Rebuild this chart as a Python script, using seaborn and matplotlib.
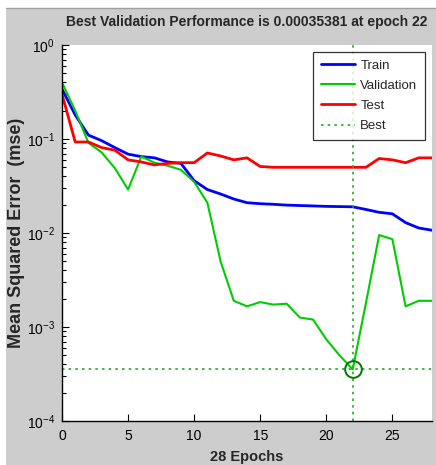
import numpy as np
import pandas as pd
import matplotlib

matplotlib.use("Agg")
import seaborn as sns
import matplotlib.pyplot as plt
from matplotlib.patches import Rectangle
from matplotlib.ticker import FixedLocator, LogLocator, NullFormatter

# values (mse per epoch, log scale)
epochs = list(range(29))
train = [0.34, 0.18, 0.11, 0.096, 0.081, 0.069, 0.065, 0.063, 0.057, 0.055,
         0.036, 0.029, 0.026, 0.023, 0.021, 0.0205, 0.0202, 0.0198, 0.0196, 0.0194,
         0.0192, 0.0191, 0.019, 0.0178, 0.0166, 0.016, 0.0129, 0.0113, 0.0107]
validation = [0.40, 0.20, 0.091, 0.072, 0.049, 0.029, 0.065, 0.056, 0.052, 0.047,
              0.035, 0.021, 0.005, 0.0019, 0.00166, 0.00184, 0.00173, 0.00177, 0.00126, 0.0012,
              0.00074, 0.0005, 0.00035381, 0.0018, 0.0095, 0.0086, 0.00166, 0.0019, 0.0019]
test = [0.30, 0.093, 0.093, 0.081, 0.076, 0.060, 0.057, 0.053, 0.055, 0.056,
        0.056, 0.071, 0.066, 0.060, 0.063, 0.051, 0.050, 0.050, 0.050, 0.050,
        0.050, 0.050, 0.050, 0.050, 0.062, 0.060, 0.056, 0.063, 0.063]
best_epoch = 22
best_perf = 0.00035381
x_ticks = [0, 5, 10, 15, 20, 25]

sns.set_style("white")
plt.rcParams["font.family"] = ["Liberation Sans", "DejaVu Sans"]

fig = plt.figure(figsize=(4.36, 4.65), dpi=100, facecolor="white")
# grey window background with a thin white strip at top and left
fig.patches.append(Rectangle((6 / 436, 0), 1, 457 / 465, transform=fig.transFigure,
                             facecolor="#cdcdcd", edgecolor="none", zorder=-10))
fig.add_artist(plt.Line2D([6 / 436, 1], [457 / 465, 457 / 465], transform=fig.transFigure,
                          color="#a0a0a0", lw=1))

ax = fig.add_axes([62 / 436, 44 / 465, 370 / 436, 376 / 465])
ax.set_facecolor("white")

sns.lineplot(x=epochs, y=train, ax=ax, color="#0000ff", lw=2, label="Train")
sns.lineplot(x=epochs, y=validation, ax=ax, color="#00cc00", lw=1.5, label="Validation")
sns.lineplot(x=epochs, y=test, ax=ax, color="#ff0000", lw=2, label="Test")

ax.axvline(best_epoch, color="#22aa22", ls=(0, (1.5, 2.5)), lw=1.2, label="Best")
ax.axhline(best_perf, color="#22aa22", ls=(0, (1.5, 2.5)), lw=1.2)
ax.plot([best_epoch], [best_perf], marker="o", ms=12, mfc="none", mec="#007700", mew=1.4)

ax.set_yscale("log")
ax.set_xlim(0, 28)
ax.set_ylim(1e-4, 1)
ax.xaxis.set_major_locator(FixedLocator(x_ticks))
ax.yaxis.set_major_locator(LogLocator(base=10, numticks=10))
ax.yaxis.set_minor_locator(LogLocator(base=10, subs=np.arange(2, 10), numticks=10))
ax.yaxis.set_minor_formatter(NullFormatter())
ax.tick_params(axis="both", which="both", direction="in", labelsize=10, colors="black")
ax.tick_params(axis="x", which="major", pad=6)
ax.tick_params(axis="y", which="major", pad=5)
ax.tick_params(axis="both", which="major", length=5, width=0.8, left=True, bottom=True)
ax.tick_params(axis="y", which="minor", length=3, width=0.8, left=True)

for side in ["top", "right"]:
    ax.spines[side].set_visible(False)
for side in ["left", "bottom"]:
    ax.spines[side].set_color("black")
    ax.spines[side].set_linewidth(1)

ax.set_title("Best Validation Performance is 0.00035381 at epoch 22",
             fontsize=10, fontweight="bold", pad=14)
ax.set_xlabel("28 Epochs", fontsize=10.5, fontweight="bold", labelpad=5)
ax.set_ylabel("Mean Squared Error  (mse)", fontsize=13, fontweight="bold")
ax.yaxis.set_label_coords(-0.1, 0.5)

leg = ax.legend(loc="upper right", fontsize=9.5, frameon=True, fancybox=False,
                borderaxespad=0.5, handlelength=2.6, handletextpad=0.4,
                labelspacing=0.6, borderpad=0.6)
leg.get_frame().set_edgecolor("black")
leg.get_frame().set_linewidth(0.9)

plt.savefig("out.png", dpi=100, facecolor=fig.get_facecolor())
plt.close()
